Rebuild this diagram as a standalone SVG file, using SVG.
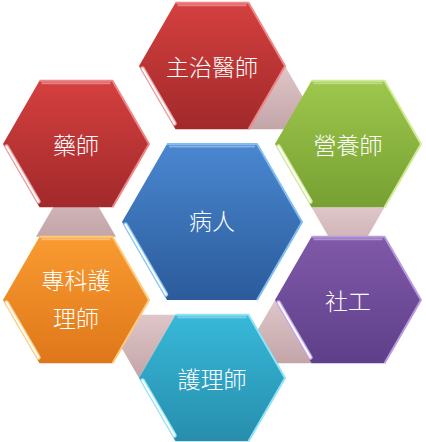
<svg xmlns="http://www.w3.org/2000/svg" xmlns:xlink="http://www.w3.org/1999/xlink" width="426" height="442" viewBox="0 0 426 442">
  <defs>
    <path id="hex" d="M73,0 L36.5,63.2 L-36.5,63.2 L-73,0 L-36.5,-63.2 L36.5,-63.2 Z"/>
    <path id="hexBig" d="M90,0 L45,77.9 L-45,77.9 L-90,0 L-45,-77.9 L45,-77.9 Z"/>
    <path id="rim" d="M-36.5,-63.2 L36.5,-63.2 L73,0 L36.5,63.2"/>
    <path id="rimBig" d="M-45,-77.9 L45,-77.9 L90,0 L45,77.9"/>
    <path id="glint" d="M-69.5,2.5 L-37.5,57.5"/>
    <path id="glintBig" d="M-86.5,2.5 L-46,72.5"/>
    <path id="topb" d="M-34.5,-60.8 L34.5,-60.8"/>
    <path id="topbBig" d="M-43,-75.5 L43,-75.5"/>
    <linearGradient id="gRed" x1="0" y1="0" x2="0" y2="1">
      <stop offset="0" stop-color="#d4403f"/>
      <stop offset="1" stop-color="#a2292a"/>
    </linearGradient>
    <linearGradient id="gGreen" x1="0" y1="0" x2="0" y2="1">
      <stop offset="0" stop-color="#9ec74d"/>
      <stop offset="1" stop-color="#76a032"/>
    </linearGradient>
    <linearGradient id="gPurple" x1="0" y1="0" x2="0" y2="1">
      <stop offset="0" stop-color="#8059a9"/>
      <stop offset="1" stop-color="#5e3f89"/>
    </linearGradient>
    <linearGradient id="gTeal" x1="0" y1="0" x2="0" y2="1">
      <stop offset="0" stop-color="#38b8d8"/>
      <stop offset="1" stop-color="#278ead"/>
    </linearGradient>
    <linearGradient id="gOrange" x1="0" y1="0" x2="0" y2="1">
      <stop offset="0" stop-color="#f99b30"/>
      <stop offset="1" stop-color="#df771a"/>
    </linearGradient>
    <linearGradient id="gBlue" x1="0" y1="0" x2="0" y2="1">
      <stop offset="0" stop-color="#4a87d0"/>
      <stop offset="1" stop-color="#2b5b9b"/>
    </linearGradient>
    <linearGradient id="gConn" x1="0" y1="0" x2="0" y2="1">
      <stop offset="0" stop-color="#dfc6c8"/>
      <stop offset="1" stop-color="#c3a5a8"/>
    </linearGradient>
  </defs>
  <style>
    .conn { fill: url(#gConn); }
    .rim { fill: none; stroke-width: 2; stroke-linejoin: round; }
    .topb { fill: none; stroke: #ffffff; stroke-opacity: 0.35; stroke-width: 2; }
    .glow { fill: none; stroke-width: 4.5; stroke-linecap: round; }
    .glint { fill: none; stroke: #ffffff; stroke-width: 2; stroke-linecap: round; }
    .lbl { font-family: "Noto Sans CJK TC", "Noto Sans CJK SC", sans-serif; font-size: 23px; font-weight: 300; fill: #ffffff; text-anchor: middle; dominant-baseline: central; }
  </style>

  <g id="connectors">
    <polygon class="conn" points="285,66 248.5,129.2 321.5,129.2"/>
    <polygon class="conn" points="384.5,207.2 311.5,207.2 348,270.4"/>
    <polygon class="conn" points="311.5,363.2 275,300 238.5,363.2"/>
    <polygon class="conn" points="139,378 175.5,314.8 102.5,314.8"/>
    <polygon class="conn" points="36,236.8 116,236.8 76,168"/>
  </g>

  <g id="node-attending" transform="translate(212,66)">
    <use xlink:href="#hex" fill="url(#gRed)"/>
    <use xlink:href="#rim" class="rim" stroke="#ef8585"/>
    <use xlink:href="#topb" class="topb"/>
    <use xlink:href="#glint" class="glow" stroke="#f0a0a0"/>
    <use xlink:href="#glint" class="glint"/>
    <text class="lbl" x="0" y="0">主治醫師</text>
  </g>

  <g id="node-pharmacist" transform="translate(76,144)">
    <use xlink:href="#hex" fill="url(#gRed)"/>
    <use xlink:href="#rim" class="rim" stroke="#ef8585"/>
    <use xlink:href="#topb" class="topb"/>
    <use xlink:href="#glint" class="glow" stroke="#f0a0a0"/>
    <use xlink:href="#glint" class="glint"/>
    <text class="lbl" x="0" y="0">藥師</text>
  </g>

  <g id="node-dietitian" transform="translate(348,144)">
    <use xlink:href="#hex" fill="url(#gGreen)"/>
    <use xlink:href="#rim" class="rim" stroke="#cdeb8f"/>
    <use xlink:href="#topb" class="topb"/>
    <use xlink:href="#glint" class="glow" stroke="#d2ec9a"/>
    <use xlink:href="#glint" class="glint"/>
    <text class="lbl" x="0" y="0">營養師</text>
  </g>

  <g id="node-social" transform="translate(348,300)">
    <use xlink:href="#hex" fill="url(#gPurple)"/>
    <use xlink:href="#rim" class="rim" stroke="#b89ae0"/>
    <use xlink:href="#topb" class="topb"/>
    <use xlink:href="#glint" class="glow" stroke="#c4a8ea"/>
    <use xlink:href="#glint" class="glint"/>
    <text class="lbl" x="0" y="0">社工</text>
  </g>

  <g id="node-nurse" transform="translate(212,378)">
    <use xlink:href="#hex" fill="url(#gTeal)"/>
    <use xlink:href="#rim" class="rim" stroke="#8ee4f8"/>
    <use xlink:href="#topb" class="topb"/>
    <use xlink:href="#glint" class="glow" stroke="#9ae6f8"/>
    <use xlink:href="#glint" class="glint"/>
    <text class="lbl" x="0" y="0">護理師</text>
  </g>

  <g id="node-np" transform="translate(76,300)">
    <use xlink:href="#hex" fill="url(#gOrange)"/>
    <use xlink:href="#rim" class="rim" stroke="#ffc978"/>
    <use xlink:href="#topb" class="topb"/>
    <use xlink:href="#glint" class="glow" stroke="#ffd08a"/>
    <use xlink:href="#glint" class="glint"/>
    <text class="lbl" x="0" y="-21">專科護</text>
    <text class="lbl" x="0" y="17">理師</text>
  </g>

  <g id="node-patient" transform="translate(212,222)">
    <use xlink:href="#hexBig" fill="url(#gBlue)"/>
    <use xlink:href="#rimBig" class="rim" stroke="#7fbdf2"/>
    <use xlink:href="#topbBig" class="topb"/>
    <use xlink:href="#glintBig" class="glow" stroke="#8fc6f4"/>
    <use xlink:href="#glintBig" class="glint"/>
    <text class="lbl" x="0" y="-2">病人</text>
  </g>
</svg>
